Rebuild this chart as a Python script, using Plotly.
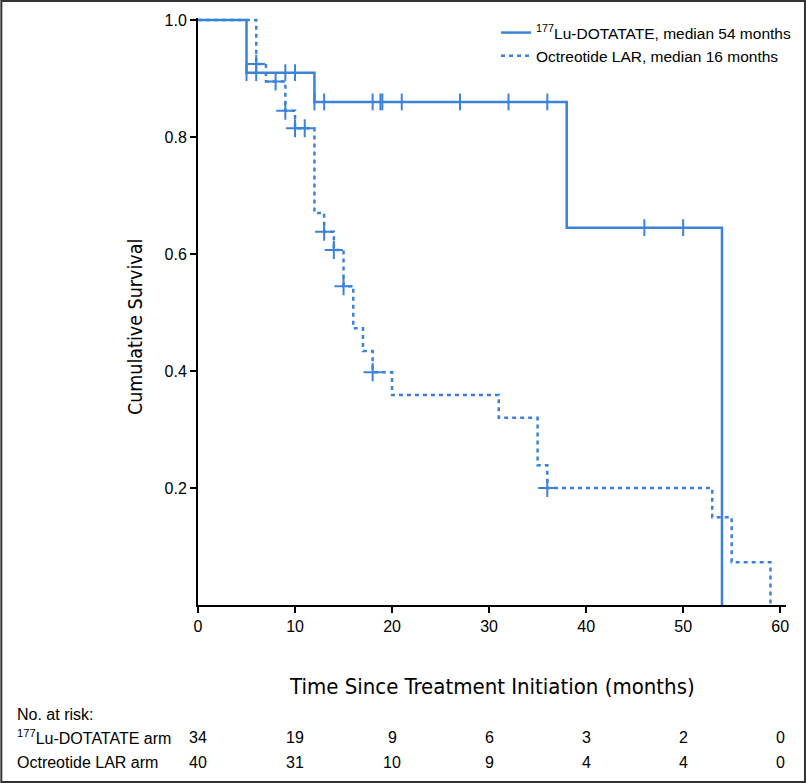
import plotly.graph_objects as go

# ---- data ----
lu_times = [0, 5, 12, 38, 54]
lu_surv = [1.0, 0.91, 0.86, 0.645, 0.0]
lu_cens_t = [5, 6, 9, 10, 12, 13, 18, 18.8, 19, 21, 27, 32, 36, 46, 50]
lu_cens_s = [0.91, 0.91, 0.91, 0.91, 0.86, 0.86, 0.86, 0.86, 0.86, 0.86, 0.86, 0.86, 0.86, 0.645, 0.645]

oc_times = [0, 6, 7, 9, 10, 12, 13, 14, 15, 16, 17, 18, 20, 31, 35, 36, 53, 55, 59]
oc_surv = [1.0, 0.925, 0.895, 0.845, 0.815, 0.67, 0.638, 0.607, 0.545, 0.473, 0.434,
           0.398, 0.359, 0.32, 0.239, 0.2, 0.15, 0.073, 0.0]
oc_cens_t = [6, 8, 9, 10, 11, 13, 14, 15, 18, 36]
oc_cens_s = [0.925, 0.895, 0.845, 0.815, 0.815, 0.638, 0.607, 0.545, 0.398, 0.2]

risk_times = [0, 10, 20, 30, 40, 50, 60]
risk_lu = [34, 19, 9, 6, 3, 2, 0]
risk_oc = [40, 31, 10, 9, 4, 4, 0]

x_ticks = [0, 10, 20, 30, 40, 50, 60]
y_ticks = [0.2, 0.4, 0.6, 0.8, 1.0]
y_ticktext = ["0.2", "0.4", "0.6", "0.8", "1.0"]

BLUE = "#3B82D9"
COND = "DejaVu Sans Condensed, Liberation Sans Narrow, Arial Narrow, sans-serif"
REG = "Liberation Sans, Arial, Helvetica, sans-serif"

W, H = 807, 783
L, R, T, B = 198, 20, 18, 178
PW = W - L - R
PH = H - T - B
Y0PX = H - B
YTOP = (Y0PX - T) / (Y0PX - 20)  # so that 1.0 sits at pixel row 20


def xp(px):
    return (px - L) / PW


def yp(py):
    return (Y0PX - py) / PH


fig = go.Figure()
fig.add_trace(go.Scatter(x=lu_times, y=lu_surv, mode="lines", line_shape="hv",
                         line=dict(color=BLUE, width=2.5), legendgroup="a",
                         name="<sup>177</sup>Lu-DOTATATE, median 54 months"))
fig.add_trace(go.Scatter(x=oc_times, y=oc_surv, mode="lines", line_shape="hv",
                         line=dict(color=BLUE, width=2.5, dash="4px,4px"), legendgroup="b",
                         name="Octreotide LAR, median 16 months"))
fig.add_trace(go.Scatter(x=lu_cens_t, y=lu_cens_s, mode="markers", showlegend=False,
                         marker=dict(symbol="line-ns-open", size=12, color=BLUE,
                                     line=dict(color=BLUE, width=2)),
                         cliponaxis=False))
fig.add_trace(go.Scatter(x=oc_cens_t, y=oc_cens_s, mode="markers", showlegend=False,
                         marker=dict(symbol="cross-thin-open", size=13, color=BLUE,
                                     line=dict(color=BLUE, width=2)),
                         cliponaxis=False))

ann = []
ann.append(dict(text="Time Since Treatment Initiation (months)", xref="paper", yref="paper",
                x=xp(492), y=yp(686), xanchor="center", yanchor="middle", showarrow=False,
                font=dict(family=COND, size=22, color="black")))
ann.append(dict(text="Cumulative Survival", xref="paper", yref="paper",
                x=xp(135), y=yp(327), xanchor="center", yanchor="middle", showarrow=False,
                textangle=-90, font=dict(family=COND, size=19.5, color="black")))
ann.append(dict(text="No. at risk:", xref="paper", yref="paper", x=xp(15), y=yp(714),
                xanchor="left", yanchor="middle", showarrow=False,
                font=dict(family=REG, size=16, color="black")))
ann.append(dict(text="<sup>177</sup>Lu-DOTATATE arm", xref="paper", yref="paper", x=xp(15),
                y=yp(737), xanchor="left", yanchor="middle", showarrow=False,
                font=dict(family=REG, size=16, color="black")))
ann.append(dict(text="Octreotide LAR arm", xref="paper", yref="paper", x=xp(15),
                y=yp(762), xanchor="left", yanchor="middle", showarrow=False,
                font=dict(family=REG, size=16, color="black")))
for t, a, b in zip(risk_times, risk_lu, risk_oc):
    ann.append(dict(text=str(a), xref="x", yref="paper", x=t, y=yp(737), xanchor="center",
                    yanchor="middle", showarrow=False,
                    font=dict(family=REG, size=16, color="black")))
    ann.append(dict(text=str(b), xref="x", yref="paper", x=t, y=yp(762), xanchor="center",
                    yanchor="middle", showarrow=False,
                    font=dict(family=REG, size=16, color="black")))

fig.update_layout(
    width=W, height=H,
    margin=dict(l=L, r=R, t=T, b=B),
    paper_bgcolor="white", plot_bgcolor="white",
    showlegend=True,
    legend=dict(x=xp(796), y=yp(16), xanchor="right", yanchor="top",
                traceorder="grouped", tracegroupgap=0,
                font=dict(family=REG, size=15.5, color="black"),
                bgcolor="rgba(0,0,0,0)", borderwidth=0),
    xaxis=dict(range=[0, 60.6], tickvals=x_ticks, ticks="outside", ticklen=6, tickwidth=1.5,
               tickcolor="black", showline=True, linecolor="black", linewidth=2,
               showgrid=False, zeroline=False,
               tickfont=dict(family=REG, size=16, color="black")),
    yaxis=dict(range=[0, YTOP],
               tickvals=y_ticks, ticktext=y_ticktext,
               ticks="outside", ticklen=6, tickwidth=1.5,
               tickcolor="black", showline=True, linecolor="black", linewidth=2,
               showgrid=False, zeroline=False,
               tickfont=dict(family=REG, size=16, color="black")),
    annotations=ann,
    shapes=[dict(type="rect", xref="paper", yref="paper",
                 x0=xp(1), x1=xp(806), y0=yp(782), y1=yp(1),
                 line=dict(color="#333333", width=2), fillcolor="rgba(0,0,0,0)", layer="below")],
)

fig.write_html("out.html", config={"displayModeBar": False},
               post_script="document.body.style.margin='0';document.body.style.padding='0';")
